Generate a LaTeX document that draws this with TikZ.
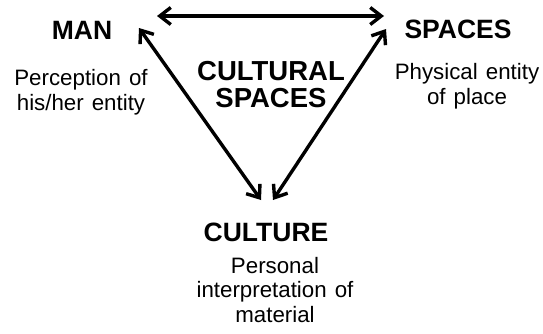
\documentclass[tikz,border=0pt]{standalone}
\usepackage{fontspec}
\setmainfont{Liberation Sans}
\newfontfamily\notefont[WordSpace=1.3]{Liberation Sans}
\usetikzlibrary{arrows.meta}

\begin{document}
\begin{tikzpicture}[x=1pt,y=-1pt,
                    >={Straight Barb[length=11pt,width=17pt]}, % open chevron tips
                    link/.style={line width=3.4pt,<->},
                    head/.style={font=\fontsize{26.5}{28}\selectfont\bfseries,
                                 anchor=base,inner sep=0pt,align=center},
                    note/.style={font=\notefont\fontsize{22.3}{24.5}\selectfont,
                                 anchor=base,inner sep=0pt,align=center}]

\useasboundingbox (0,0) rectangle (543,333);

% ---------------------------------------------------------------
% Corners
\node[head] (man)     at (82,39)   {MAN};
\node[head] (spaces)  at (458,38)  {SPACES};
\node[head] (culture) at (266,241) {CULTURE};

% Descriptions (base = last line)
\node[note] (manTxt)     at (81,110)  {Perception of\\his/her entity};
\node[note] (spacesTxt)  at (467,104) {Physical entity\\of place};
\node[note] (cultureTxt) at (275,322) {Personal\\interpretation of\\material};

% Centre title
\node[head,font=\fontsize{27.5}{27}\selectfont\bfseries] (title) at (271,107)
      {CULTURAL\\SPACES};

% ---------------------------------------------------------------
% Arrow ends
\coordinate (topL)  at (157,16);
\coordinate (topR)  at (384,16);
\coordinate (manE)  at (139,28);
\coordinate (spcW)  at (386,29);
\coordinate (culL)  at (261,200);
\coordinate (culR)  at (273,200);

% Arrows
\draw[link] (topL) -- (topR);
\draw[link] (manE) -- (culL);
\draw[link] (spcW) -- (culR);

\end{tikzpicture}
\end{document}
